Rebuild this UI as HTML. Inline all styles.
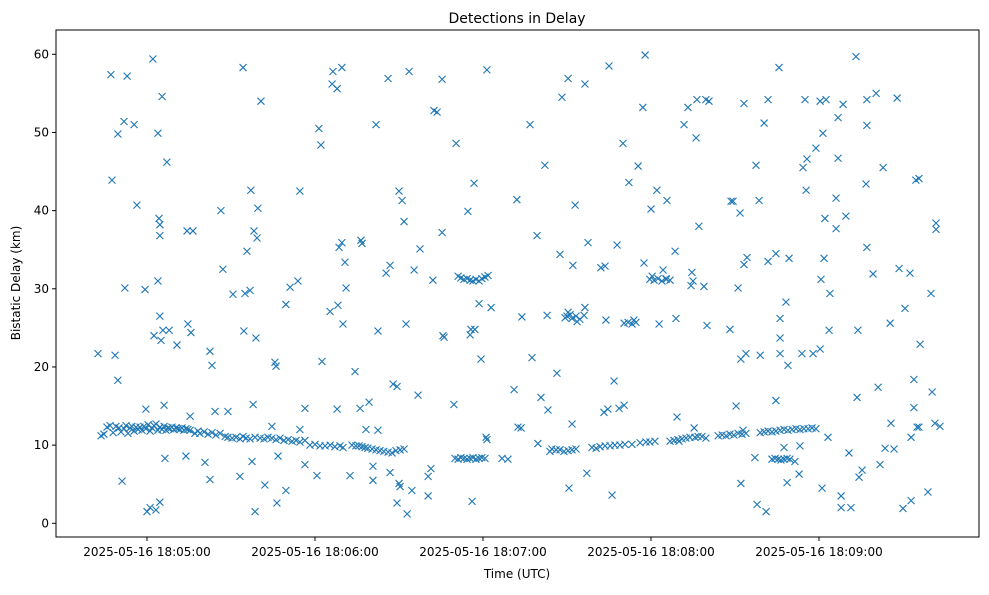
<!DOCTYPE html>
<html><head><meta charset="utf-8"><style>
body{margin:0;background:#fff;font-family:"Liberation Sans","DejaVu Sans",sans-serif}
svg text{font-family:"DejaVu Sans","Liberation Sans",sans-serif;fill:#000}
</style></head><body>
<svg id="chart" width="989" height="590" viewBox="0 0 989 590">
<rect width="989" height="590" fill="#fff"/>
<text x="517" y="23" font-size="14" text-anchor="middle">Detections in Delay</text>
<g id="marks"></g>
<g id="axes"></g>
<text x="517" y="578" font-size="12" text-anchor="middle">Time (UTC)</text>
<text x="0" y="0" font-size="12" text-anchor="middle" transform="translate(20,283) rotate(-90)">Bistatic Delay (km)</text>
</svg>
<script>
// time in seconds after 2025-05-16 18:04:00 UTC, delay in km
const scattered = [[42.5,21.7],[47.1,57.4],[47.5,43.9],[48.6,21.5],[49.6,18.3],[49.6,49.8],[51.1,5.4],[51.8,51.4],[52.1,30.1],[52.9,57.2],[55.4,51.0],[56.4,40.7],[59.3,29.9],[59.6,14.6],[60,1.5],[61.1,2.0],[62.1,59.4],[62.5,24.0],[63.2,1.7],[63.9,49.9],[63.9,31.0],[64.3,39.0],[64.6,38.2],[64.6,36.8],[64.6,26.5],[64.6,2.7],[65.0,23.4],[65.4,54.6],[65.7,24.7],[66.1,15.1],[66.4,8.3],[67.1,46.2],[67.9,24.7],[70.7,22.8],[73.9,8.6],[74.3,37.4],[74.6,25.5],[75.7,24.4],[76.4,37.4],[75.4,13.7],[80.7,7.8],[82.5,22.0],[83.2,20.2],[82.5,5.6],[84.3,14.3],[86.4,40.0],[87.1,32.5],[88.9,14.3],[90.7,29.3],[93.2,6.0],[94.3,58.3],[94.6,24.6],[95.0,29.4],[95.7,34.8],[96.8,29.8],[97.1,42.6],[97.5,7.9],[97.9,15.2],[98.2,37.4],[98.6,1.5],[98.9,23.7],[99.3,36.5],[99.6,40.3],[100.7,54.0],[102.1,4.9],[104.6,12.4],[105.7,20.6],[106.1,20.1],[106.4,2.6],[106.8,8.6],[109.6,28.0],[109.6,4.2],[111.1,30.2],[113.9,31.0],[114.6,12.0],[114.6,42.5],[116.4,14.7],[116.4,7.5],[120.7,6.1],[121.4,50.5],[122.1,48.4],[122.5,20.7],[125.4,27.1],[126.1,56.2],[126.4,57.8],[127.9,55.6],[127.9,14.6],[128.2,27.9],[128.6,35.3],[129.6,58.3],[129.6,35.9],[130,25.5],[130.7,33.4],[131.1,30.1],[132.5,6.1],[134.3,19.4],[136.1,14.7],[136.4,36.2],[136.8,35.8],[138.2,12.0],[139.3,15.5],[140.7,7.3],[140.7,5.5],[141.8,51.0],[142.5,24.6],[142.5,11.9],[145.4,32.0],[146.1,56.9],[146.8,33.0],[146.8,6.5],[147.9,17.8],[149.3,17.5],[149.3,2.6],[150,42.5],[150,5.1],[150.4,4.7],[151.1,41.3],[151.8,38.6],[152.5,25.5],[152.9,1.2],[153.6,57.8],[154.6,4.2],[155.4,32.4],[156.8,16.4],[157.5,35.1],[160.4,6.0],[160.4,3.5],[161.4,7.0],[162.1,31.1],[162.5,52.8],[163.6,52.6],[165.4,37.2],[165.4,56.8],[165.7,24.0],[166.1,23.8],[169.6,15.2],[170.4,48.6],[174.6,39.9],[175.4,24.1],[175.7,24.8],[176.1,2.8],[176.8,43.5],[177.1,24.8],[178.6,28.1],[179.3,21.0],[181.1,11.0],[181.4,10.7],[181.4,58.0],[182.9,27.6],[186.8,8.3],[188.9,8.2],[191.1,17.1],[192.1,41.4],[192.5,12.3],[193.6,12.2],[193.9,26.4],[196.8,51.0],[197.5,21.2],[199.3,36.8],[199.6,10.2],[200.7,16.1],[202.1,45.8],[202.9,26.6],[203.2,14.5],[203.9,9.2],[206.4,19.2],[207.5,34.4],[208.2,54.5],[210,26.5],[210.4,56.9],[210.7,4.5],[211.1,26.7],[211.8,12.7],[212.1,33.0],[212.9,40.7],[213.6,25.8],[216.4,56.2],[216.4,27.6],[217.1,6.4],[217.5,35.9],[220.4,9.6],[222.1,32.7],[223.2,14.2],[223.6,32.9],[223.9,26.0],[224.6,14.6],[225,58.5],[226.1,3.6],[226.8,18.2],[227.9,35.6],[228.6,14.7],[230,48.6],[230.4,15.1],[232.1,43.6],[233.9,26.0],[235.4,45.7],[237.1,53.2],[237.5,33.3],[237.9,59.9],[240,40.2],[240.4,31.6],[242.1,42.6],[242.9,25.5],[244.3,32.4],[245.4,31.3],[245.7,41.3],[248.6,34.8],[248.9,26.2],[249.3,13.6],[250,10.5],[251.8,51.0],[253.2,53.2],[254.3,30.4],[254.6,32.1],[255,31.0],[255.4,12.2],[256.1,49.3],[256.4,54.2],[257.1,38.0],[258.9,30.3],[259.6,54.2],[260,25.3],[260.7,54.0],[268.2,24.8],[268.6,41.2],[269.3,41.2],[270.4,15.0],[271.8,39.7],[272.1,21.0],[272.9,11.9],[271.1,30.1],[272.1,5.1],[273.2,53.7],[273.2,33.1],[274.3,34.0],[273.9,21.7],[277.1,8.4],[277.5,45.8],[277.9,2.4],[278.6,41.3],[279,21.5],[280.4,51.2],[281.1,1.5],[281.8,54.2],[281.8,33.5],[284.6,15.7],[284.6,34.5],[285.7,58.3],[286.1,26.2],[286.1,23.7],[286.1,21.7],[287.5,9.7],[288.2,28.3],[288.6,5.2],[288.9,20.2],[289.3,33.9],[291.4,7.9],[292.9,6.3],[293.2,9.9],[293.9,21.7],[294.3,45.5],[295,54.2],[295.4,42.6],[295.7,46.6],[297.9,21.7],[298.9,48.0],[300.4,54.0],[300.4,22.3],[300.7,31.2],[301.1,4.5],[301.4,49.9],[301.8,33.9],[302.1,39.0],[302.5,54.2],[303.2,11.0],[303.6,24.7],[303.9,29.4],[306.1,41.6],[306.1,37.7],[306.8,51.9],[306.8,46.7],[307.9,3.5],[308.6,53.6],[307.9,2.0],[309.6,39.3],[310.7,9.0],[311.4,2.0],[313.2,59.7],[313.6,16.1],[313.9,24.7],[314.3,5.9],[315.4,6.8],[316.8,43.4],[317.1,54.2],[317.1,35.3],[317.1,50.9],[319.3,31.9],[320.4,55.0],[321.1,17.4],[321.8,7.5],[322.9,45.5],[323.6,9.6],[325.4,25.6],[325.7,12.8],[326.8,9.5],[327.9,54.4],[328.6,32.6],[330,1.9],[330.7,27.5],[332.5,32.0],[332.9,11.0],[332.9,2.9],[333.9,14.8],[333.9,18.4],[334.6,43.9],[335.7,44.1],[335,12.3],[335.7,12.3],[336.1,22.9],[338.9,4.0],[340,29.4],[340.4,16.8],[341.4,12.8],[341.8,37.6],[341.8,38.4],[343.2,12.4]];
const bandEarly = [[43.6,11.2],[44.6,11.4],[45.7,12.3],[46.8,12.5],[47.9,11.6],[48.9,12.4],[50.0,12.2],[50.7,11.7],[51.8,12.1],[52.5,12.5],[53.2,11.5],[53.9,12.2],[54.6,12.4],[55.4,11.8],[56.1,12.3],[56.8,12.0],[57.5,12.3],[58.2,11.9],[58.9,12.4],[59.6,12.1],[60.4,12.6],[61.1,11.8],[61.8,12.2],[62.5,12.5],[63.2,12.7],[63.9,11.9],[64.6,12.3],[65.4,12.0],[66.1,12.4],[66.8,11.9],[67.5,12.2],[68.2,12.1],[68.9,12.3],[69.6,12.0],[70.4,12.2],[71.1,12.1],[71.8,12.0],[72.5,12.2],[73.2,11.9],[73.9,12.1],[74.6,12.0],[75.4,11.9],[77.1,11.5],[78.2,11.8],[78.9,11.5],[80.4,11.7],[81.8,11.4],[83.2,11.6],[84.6,11.3],[86.1,11.5],[87.9,11.1],[88.9,11.0],[90.4,10.9],[91.8,11.0],[93.2,10.8],[94.3,11.1],[95.4,10.9],[96.8,10.8],[98.6,11.0],[100.4,10.9],[101.8,10.8],[103.2,11.0],[104.6,10.9],[106.1,10.7],[107.5,10.9],[108.9,10.6],[110.4,10.7],[111.8,10.5],[113.2,10.6],[114.6,10.4],[116.4,10.6],[118.2,10.0],[120,10.1],[121.8,9.9],[123.6,9.9],[125.4,10.0],[127.1,9.8],[128.9,9.9],[130,9.7],[133.2,10.0],[134.6,9.9],[135.7,9.9],[136.8,9.8],[137.9,9.7],[138.9,9.6],[140.4,9.5],[141.8,9.4],[143.2,9.3],[144.6,9.2],[146.1,9.1],[147.5,9.0],[148.9,9.3],[150.4,9.4],[151.8,9.5]];
const bandMid = [[170,8.3],[171.1,8.2],[172.1,8.4],[173.2,8.3],[174.3,8.2],[175.4,8.3],[176.4,8.4],[177.5,8.2],[178.6,8.3],[179.6,8.4],[180.7,8.3],[171.1,31.6],[172.1,31.4],[173.2,31.2],[174.3,31.3],[175.4,31.1],[176.4,31.0],[177.5,31.2],[178.6,31.0],[179.6,31.3],[180.7,31.5],[181.8,31.7]];
const bandLate = [[204.6,9.5],[206.1,9.4],[207.5,9.4],[208.9,9.2],[210.4,9.3],[211.8,9.4],[213.2,9.5],[218.9,9.7],[221.8,9.8],[223.6,9.9],[225.4,9.9],[227.1,10.0],[228.9,10.0],[230.7,10.1],[233.2,10.1],[236.1,10.3],[238.2,10.4],[239.6,10.4],[241.4,10.5],[246.8,10.5],[248.2,10.6],[249.6,10.7],[251.1,10.8],[252.5,10.9],[253.9,11.0],[255.7,11.0],[256.8,11.1],[258.2,11.1],[259.6,10.9],[264,11.2],[265.4,11.3],[266.8,11.2],[268.2,11.4],[269.6,11.3],[271.1,11.5],[272.5,11.4],[273.9,11.5],[279,11.6],[280.4,11.7],[281.8,11.8],[283.2,11.7],[284.6,11.8],[286.1,11.9],[287.5,12.0],[288.9,11.9],[290.4,12.0],[291.8,12.1],[293.2,12.0],[294.6,12.1],[296.1,12.1],[297.5,12.2],[298.9,12.1],[283.2,8.2],[284.3,8.3],[285.4,8.2],[286.4,8.1],[287.5,8.2],[288.6,8.3],[289.6,8.2],[209.3,26.3],[210.4,27.0],[211.8,26.2],[213.2,26.5],[214.6,26.1],[216.1,26.6],[230.4,25.6],[231.8,25.7],[233.2,25.5],[234.6,25.7],[239.6,31.2],[241.1,31.1],[242.5,31.3],[243.9,31.0],[245.4,31.2],[246.8,31.1]];
const yTicks = [0,10,20,30,40,50,60];
const xTickSeconds = [60,120,180,240,300];
const xTickLabels = ["2025-05-16 18:05:00","2025-05-16 18:06:00","2025-05-16 18:07:00","2025-05-16 18:08:00","2025-05-16 18:09:00"];

const NS = "http://www.w3.org/2000/svg";
const L=56,R=979,T=30,B=537;
function xs(t){return 147 + (t-60)*2.8;}
function ys(v){return 523.3 - v*7.817;}
const marks=document.getElementById('marks');
[scattered,bandEarly,bandMid,bandLate].forEach(arr=>{
  arr.forEach(p=>{
    const cx=xs(p[0]),cy=ys(p[1]);
    const path=document.createElementNS(NS,'path');
    path.setAttribute('d',`M${cx-3.5},${cy-3.5}L${cx+3.5},${cy+3.5}M${cx-3.5},${cy+3.5}L${cx+3.5},${cy-3.5}`);
    path.setAttribute('stroke','#1f77b4');
    path.setAttribute('stroke-width','1.1');
    path.setAttribute('fill','none');
    
    
    marks.appendChild(path);
  });
});
const axes=document.getElementById('axes');
const frame=document.createElementNS(NS,'rect');
frame.setAttribute('x',L);frame.setAttribute('y',T);frame.setAttribute('width',R-L);frame.setAttribute('height',B-T);
frame.setAttribute('fill','none');frame.setAttribute('stroke','#000');frame.setAttribute('stroke-width','1');


axes.appendChild(frame);
yTicks.forEach(v=>{
  const y=ys(v);
  const ln=document.createElementNS(NS,'line');
  ln.setAttribute('x1',L-4);ln.setAttribute('x2',L);ln.setAttribute('y1',y);ln.setAttribute('y2',y);ln.setAttribute('stroke','#000');
  
  
  axes.appendChild(ln);
  const tx=document.createElementNS(NS,'text');
  tx.setAttribute('x',L-7);tx.setAttribute('y',y+4);tx.setAttribute('font-size','12');tx.setAttribute('text-anchor','end');
  tx.textContent=v;
  
  
  axes.appendChild(tx);
});
xTickSeconds.forEach((s,i)=>{
  const x=xs(s);
  const ln=document.createElementNS(NS,'line');
  ln.setAttribute('x1',x);ln.setAttribute('x2',x);ln.setAttribute('y1',B);ln.setAttribute('y2',B+4);ln.setAttribute('stroke','#000');
  
  
  axes.appendChild(ln);
  const tx=document.createElementNS(NS,'text');
  tx.setAttribute('x',x);tx.setAttribute('y',B+19);tx.setAttribute('font-size','12');tx.setAttribute('text-anchor','middle');
  tx.textContent=xTickLabels[i];
  
  
  axes.appendChild(tx);
});
</script>
</body></html>
